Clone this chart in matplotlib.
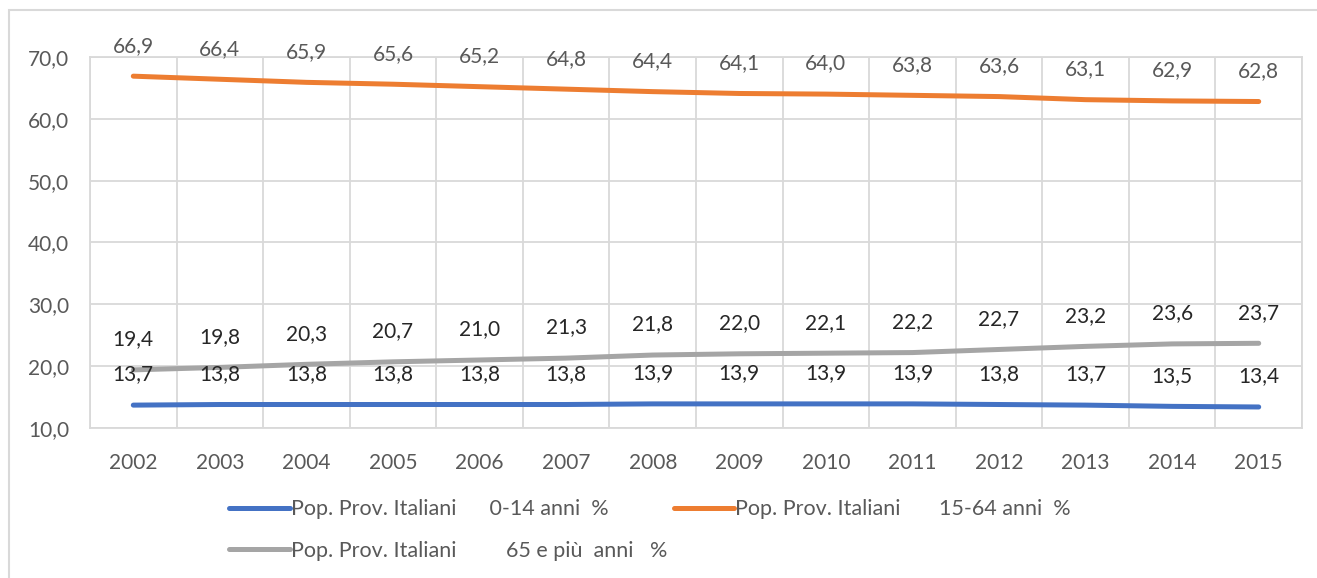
import numpy as np
import matplotlib
matplotlib.use("Agg")
import matplotlib.pyplot as plt
from matplotlib.patches import Rectangle

plt.rcParams['font.family'] = ['Lato', 'DejaVu Sans']

# Data
years = ['2002', '2003', '2004', '2005', '2006', '2007', '2008',
         '2009', '2010', '2011', '2012', '2013', '2014', '2015']
pop_0_14 = [13.7, 13.8, 13.8, 13.8, 13.8, 13.8, 13.9, 13.9, 13.9, 13.9, 13.8, 13.7, 13.5, 13.4]
pop_15_64 = [66.9, 66.4, 65.9, 65.6, 65.2, 64.8, 64.4, 64.1, 64.0, 63.8, 63.6, 63.1, 62.9, 62.8]
pop_65 = [19.4, 19.8, 20.3, 20.7, 21.0, 21.3, 21.8, 22.0, 22.1, 22.2, 22.7, 23.2, 23.6, 23.7]
labels = ['Pop. Prov. Italiani' + ' ' * 6 + '0-14 anni  %',
          'Pop. Prov. Italiani' + ' ' * 7 + '15-64 anni  %',
          'Pop. Prov. Italiani' + ' ' * 9 + '65 e più  anni   %']
y_ticks = [10, 20, 30, 40, 50, 60, 70]

BLUE = '#4472C4'
ORANGE = '#ED7D31'
GRAY = '#A5A5A5'
GRID = '#D9D9D9'
TXT = '#595959'

W, H = 1317, 578
fig = plt.figure(figsize=(W / 100, H / 100), dpi=100)

# outer chart frame
fig.patches.append(Rectangle((9 / W, -0.05), 1.1, 1 - 10 / H + 0.05, transform=fig.transFigure,
                             fill=False, edgecolor=GRID, linewidth=1.5))

ax = fig.add_axes([90 / W, 1 - 428 / H, (1302 - 90) / W, (428 - 57) / H])
x = np.arange(len(years))

series = [(pop_0_14, BLUE, '#262626'), (pop_15_64, ORANGE, TXT), (pop_65, GRAY, '#262626')]
handles = []
for (vals, col, lc), lab in zip(series, labels):
    h, = ax.plot(x, vals, color=col, linewidth=3.6, solid_capstyle='round', label=lab)
    handles.append(h)
    for xi, v in zip(x, vals):
        ax.annotate(f'{v:.1f}'.replace('.', ','), (xi, v), xytext=(0, 22), textcoords='offset points',
                    ha='center', va='center', fontsize=15, color=lc)

ax.set_xlim(-0.5, len(years) - 0.5)
ax.set_ylim(10, 70)
ax.set_xticks(x)
ax.set_xticklabels(years)
ax.set_xticks(np.arange(-0.5, len(years), 1), minor=True)
ax.set_yticks(y_ticks)
ax.set_yticklabels([f'{t:.1f}'.replace('.', ',') for t in y_ticks])
ax.tick_params(axis='both', which='both', length=0, labelsize=15, labelcolor=TXT)
ax.tick_params(axis='y', pad=15)
ax.tick_params(axis='x', pad=18)
ax.grid(True, axis='y', which='major', color=GRID, linewidth=1.3)
ax.grid(True, axis='x', which='minor', color=GRID, linewidth=1.3)
ax.grid(False, axis='x', which='major')
ax.set_axisbelow(True)
for s in ax.spines.values():
    s.set_color(GRID)
    s.set_linewidth(1.3)

# legend filled row by row: blue, orange / gray
fig.legend(handles=[handles[0], handles[2], handles[1]], ncol=2, loc='upper left',
           bbox_to_anchor=(210 / W, 1 - 480 / H),
           frameon=False, fontsize=15.5, labelcolor=TXT, handlelength=2.8, handletextpad=0.05,
           columnspacing=0.3, labelspacing=1.0)

fig.savefig('out.png', dpi=100)
